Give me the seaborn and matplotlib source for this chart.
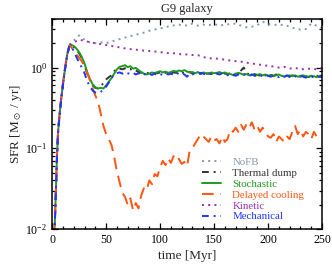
import numpy as np
import matplotlib
matplotlib.use("Agg")
import matplotlib.pyplot as plt
import seaborn as sns

sns.set_theme(style="ticks")
plt.rcParams['font.family'] = ['Liberation Serif', 'DejaVu Serif']
plt.rcParams['mathtext.fontset'] = 'stix'

# time grids [Myr]
t_early = [1.5, 2.5, 3.5, 4.5, 5.5, 7, 8.5, 10, 12, 14, 16, 18]
t_fine = t_early + list(np.arange(20, 250.1, 2.5))
t_coarse = t_early + list(np.arange(20, 250.1, 5))

# SFR [Msun/yr] on the fine grid
sfr_thermal = [0.008, 0.012, 0.03, 0.08, 0.16, 0.27, 0.42, 0.62, 0.98, 1.45, 1.86, 1.88,
               1.8, 1.68, 1.5, 1.3, 1.06, 0.84, 0.7, 0.6, 0.56, 0.55,
               0.59, 0.64, 0.71, 0.76, 0.8, 0.9, 0.98, 0.97, 0.95, 0.98,
               0.93, 0.96, 0.9, 0.92, 0.88, 0.86, 0.87, 0.85, 0.86, 0.84,
               0.86, 0.85, 0.87, 0.84, 0.86, 0.88, 0.85, 0.87, 0.86, 0.89,
               0.87, 0.85, 0.86, 0.88, 0.84, 0.86, 0.85, 0.83, 0.86, 0.84,
               0.85, 0.83, 0.86, 0.84, 0.85, 0.87, 0.84, 0.83, 0.85, 0.82,
               0.84, 0.86, 0.92, 1.0, 0.86, 0.82, 0.8, 0.83, 0.81, 0.79,
               0.82, 0.8, 0.78, 0.81, 0.79, 0.82, 0.8, 0.78, 0.8, 0.79,
               0.77, 0.8, 0.78, 0.79, 0.77, 0.8, 0.78, 0.76, 0.79, 0.77,
               0.78, 0.8, 0.77]
sfr_stochastic = [0.008, 0.012, 0.03, 0.08, 0.16, 0.27, 0.42, 0.62, 0.98, 1.45, 1.88, 1.9,
                  1.85, 1.72, 1.55, 1.35, 1.12, 0.88, 0.72, 0.62, 0.57, 0.55,
                  0.56, 0.55, 0.6, 0.67, 0.74, 0.84, 0.95, 1.02, 1.04, 1.07,
                  1.01, 1.04, 0.97, 0.99, 0.93, 0.88, 0.84, 0.82, 0.84, 0.87,
                  0.85, 0.88, 0.9, 0.87, 0.89, 0.86, 0.88, 0.91, 0.89, 0.92,
                  0.9, 0.93, 0.89, 0.87, 0.88, 0.85, 0.88, 0.84, 0.87, 0.85,
                  0.83, 0.87, 0.85, 0.86, 0.88, 0.85, 0.87, 0.84, 0.83, 0.81,
                  0.83, 0.86, 0.84, 0.81, 0.83, 0.8, 0.82, 0.79, 0.81, 0.83,
                  0.8, 0.82, 0.79, 0.81, 0.78, 0.8, 0.82, 0.79, 0.77, 0.79,
                  0.8, 0.78, 0.8, 0.77, 0.79, 0.8, 0.78, 0.77, 0.79, 0.78,
                  0.76, 0.78, 0.77]
sfr_delayed = [0.008, 0.012, 0.031, 0.082, 0.16, 0.28, 0.43, 0.63, 1.0, 1.5, 1.85, 1.78,
               1.6, 1.45, 1.32, 1.2, 1.02, 0.85, 0.7, 0.55, 0.45, 0.38,
               0.27, 0.19, 0.15, 0.13, 0.11, 0.078, 0.052, 0.038, 0.028, 0.025,
               0.02, 0.024, 0.017, 0.021, 0.018, 0.026, 0.032, 0.03, 0.04, 0.036,
               0.048, 0.045, 0.058, 0.07, 0.062, 0.075, 0.066, 0.08, 0.07, 0.074,
               0.064, 0.068, 0.06, 0.095, 0.1, 0.115, 0.13, 0.15, 0.14, 0.13,
               0.12, 0.14, 0.125, 0.13, 0.115, 0.14, 0.12, 0.13, 0.17, 0.16,
               0.18, 0.16, 0.195, 0.17, 0.2, 0.18, 0.21, 0.17, 0.19, 0.16,
               0.18, 0.16, 0.14, 0.135, 0.15, 0.12, 0.14, 0.13, 0.12, 0.14,
               0.13, 0.16, 0.19, 0.15, 0.17, 0.14, 0.16, 0.15, 0.13, 0.16,
               0.14, 0.15, 0.15]
sfr_mechanical = [0.008, 0.011, 0.029, 0.078, 0.155, 0.26, 0.41, 0.6, 0.95, 1.42, 1.85, 1.8,
                  1.6, 1.35, 1.15, 1.0, 0.85, 0.68, 0.58, 0.52, 0.49, 0.48,
                  0.5, 0.53, 0.58, 0.65, 0.74, 0.82, 0.85, 0.87, 0.84, 0.88,
                  0.85, 0.83, 0.86, 0.82, 0.85, 0.81, 0.84, 0.8, 0.83, 0.81,
                  0.84, 0.8, 0.83, 0.81, 0.85, 0.82, 0.84, 0.81, 0.86, 0.83,
                  0.85, 0.82, 0.77, 0.84, 0.82, 0.85, 0.83, 0.86, 0.84, 0.82,
                  0.85, 0.83, 0.86, 0.84, 0.82, 0.85, 0.83, 0.8, 0.84, 0.81,
                  0.79, 0.82, 0.8, 0.83, 0.81, 0.78, 0.82, 0.8, 0.77, 0.8,
                  0.78, 0.81, 0.79, 0.77, 0.8, 0.78, 0.76, 0.79, 0.77, 0.8,
                  0.77, 0.75, 0.78, 0.76, 0.79, 0.77, 0.75, 0.78, 0.76, 0.77,
                  0.75, 0.77, 0.76]

# SFR on the coarse grid
sfr_nofb = [0.008, 0.012, 0.03, 0.08, 0.16, 0.27, 0.42, 0.62, 0.98, 1.45, 1.9, 2.05,
            2.15, 2.5, 2.2, 2.05, 2.0, 2.05, 2.0, 2.1, 2.2, 2.3,
            2.4, 2.5, 2.6, 2.7, 2.85, 2.95, 3.05, 3.15, 3.3, 3.35,
            3.4, 3.3, 3.5, 3.3, 3.4, 3.35, 3.45, 3.3, 3.4, 3.45,
            3.5, 3.3, 3.15, 3.2, 3.35, 3.7, 3.45, 3.4, 3.35, 3.4,
            3.2, 3.05, 2.95, 3.0, 3.5, 3.3, 3.1]
sfr_kinetic = [0.008, 0.012, 0.03, 0.08, 0.16, 0.27, 0.42, 0.62, 0.98, 1.45, 1.85, 2.0,
               2.05, 2.2, 2.15, 2.05, 2.0, 1.95, 1.9, 1.85, 1.8, 1.75,
               1.7, 1.68, 1.65, 1.62, 1.6, 1.58, 1.55, 1.52, 1.5, 1.5,
               1.45, 1.45, 1.43, 1.42, 1.35, 1.3, 1.3, 1.28, 1.25, 1.22,
               1.2, 1.18, 1.15, 1.12, 1.1, 1.07, 1.05, 1.03, 1.0, 1.02,
               0.97, 0.99, 0.95, 0.96, 0.97, 0.95, 0.98]

labels = ["NoFB", "Thermal dump", "Stochastic", "Delayed cooling", "Kinetic", "Mechanical"]
colors = ["#8797ab", "#333333", "#1f9a1f", "#ff5511", "#9630b0", "#1f35ff"]
styles = [(0, (1, 2.2)), (0, (3.5, 2.5, 1, 2.5)), "-", (0, (6, 3.5)),
          (0, (1, 2.2)), (0, (3.5, 2.5, 1, 2.5))]

series = [(t_coarse, sfr_nofb), (t_fine, sfr_thermal), (t_fine, sfr_stochastic),
          (t_fine, sfr_delayed), (t_coarse, sfr_kinetic), (t_fine, sfr_mechanical)]

fig, ax = plt.subplots(figsize=(3.32, 2.74), dpi=100)
fig.subplots_adjust(left=0.157, right=0.97, top=0.931, bottom=0.164)

for (t, s), lab, c, ls in zip(series, labels, colors, styles):
    sns.lineplot(x=t, y=s, ax=ax, color=c, linestyle=ls, linewidth=1.4,
                 label=lab, estimator=None)

ax.set_yscale('log')
ax.set_xlim(0, 250)
ax.set_ylim(0.01, 4)
ax.set_xticks([0, 50, 100, 150, 200, 250])
ax.xaxis.set_minor_locator(matplotlib.ticker.MultipleLocator(10))
ax.tick_params(which='both', direction='in', top=True, right=True, labelsize=8.5,
               width=0.9, colors='black')
ax.tick_params(which='major', length=4.5)
ax.tick_params(which='minor', length=2.5)
for sp in ax.spines.values():
    sp.set_linewidth(1.1)
    sp.set_color('black')

ax.set_xlabel("time [Myr]", fontsize=9.5, labelpad=3)
ax.set_ylabel(r"SFR [M$_\odot$ / yr]", fontsize=9.5, labelpad=1)
ax.set_title("G9 galaxy", fontsize=9, pad=5)

ax.legend(loc='lower right', bbox_to_anchor=(0.97, -0.01), frameon=False, fontsize=7.8,
          handlelength=1.8, handletextpad=1.0, labelspacing=0.12, labelcolor='linecolor')

fig.savefig("out.png", dpi=100)
